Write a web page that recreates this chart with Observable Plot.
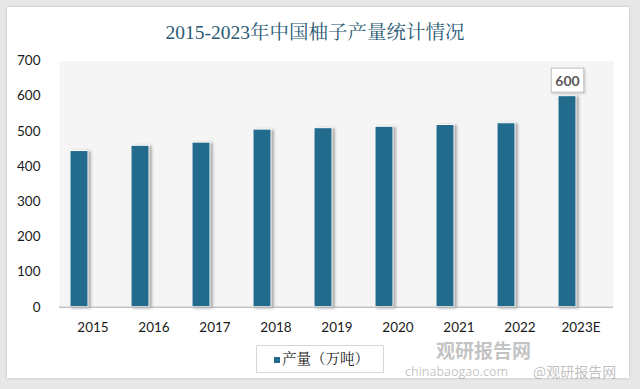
<!DOCTYPE html>
<html><head><meta charset="utf-8">
<script src="https://cdn.jsdelivr.net/npm/d3@7"></script>
<script src="https://cdn.jsdelivr.net/npm/@observablehq/plot@0.6"></script>
<style>
body{margin:0;background:#e8e8e8;width:640px;height:389px;overflow:hidden;position:relative;font-family:Lato,"Noto Sans CJK SC",sans-serif}
#panel{position:absolute;left:7px;top:7px;width:622px;height:371px;background:#fff;box-shadow:0 0 3px rgba(0,0,0,0.18)}
#title{position:absolute;left:0;width:630px;top:21px;text-align:center;font-size:19.5px;line-height:24px;font-family:"Liberation Serif","Noto Serif CJK SC","Noto Sans CJK SC",serif;color:#2b5a73}
#chart{position:absolute;left:0;top:48px}
#legend{position:absolute;left:256px;top:345px;width:126px;height:26px;border:1px solid #d6d6d6;background:#fff;box-sizing:content-box}
#legend .sw{position:absolute;left:17px;top:11px;width:6px;height:6px;background:#226b8c}
#legend .tx{position:absolute;left:25px;top:4px;font-size:14.5px;line-height:18px;font-family:"Liberation Serif","Noto Serif CJK SC","Noto Sans CJK SC",serif;color:#222;white-space:nowrap}
.wm{position:absolute;white-space:nowrap;color:rgba(120,120,120,0.45)}
</style></head>
<body>
<div id="panel"></div>
<div id="title">2015-2023年中国柚子产量统计情况</div>
<div id="chart"></div>
<div id="legend"><div class="sw"></div><div class="tx">产量（万吨）</div></div>
<div class="wm" style="left:436px;top:340px;font-size:19px;line-height:19px;font-weight:bold;font-family:'Noto Sans CJK SC',sans-serif">观研报告网</div>
<div class="wm" style="left:405px;top:365px;font-size:12.5px;line-height:13px;font-family:'Open Sans',sans-serif">chinabaogao.com</div>
<div class="wm" style="left:533px;top:364px;font-size:14px;line-height:14px;font-family:'Noto Sans CJK SC',sans-serif;color:rgba(150,150,150,0.6)">@观研报告网</div>
<script>
const years = ["2015","2016","2017","2018","2019","2020","2021","2022","2023E"];
const output = [444, 459, 468, 505, 509, 513, 518, 523, 600];
const yTicks = [0, 100, 200, 300, 400, 500, 600, 700];
const labelYears = ["2023E"];
const labelValues = [600];

const data = years.map((year, i) => ({year, value: output[i]}));
const labelData = labelYears.map((year, i) => ({year, value: labelValues[i]}));
const barColor = "#226b8c";

const svg = Plot.plot({
  width: 640, height: 295,
  marginTop: 12.5, marginBottom: 36.3, marginLeft: 59, marginRight: 27,
  style: {fontFamily: "Lato, sans-serif", fontSize: "13.5px", color: "#1a1a1a", background: "transparent"},
  x: {domain: years, padding: 0, label: null, tickSize: 0, tickPadding: 15},
  y: {domain: [0, 700], ticks: yTicks, label: null, tickSize: 0, tickPadding: 19},
  marks: [
    Plot.frame({fill: "#f5f5f5", stroke: "none"}),
    Plot.barY(data, {x: "year", y: "value", fill: barColor, stroke: "#ffffff", strokeWidth: 1, insetLeft: 8, insetRight: 35}),
    Plot.ruleY([0], {stroke: "#a8a8a8", strokeWidth: 1}),
    Plot.text(labelData, {x: "year", y: "value", text: d => String(d.value), dx: -13.5, dy: -15, fontWeight: "bold", fill: "#595959", fontSize: 14, lineAnchor: "middle"})
  ]
});
document.getElementById("chart").appendChild(svg);

const s = d3.select(svg);
const defs = s.insert("defs", ":first-child");
const pat = defs.append("pattern").attr("id", "hatch").attr("width", 3).attr("height", 3)
  .attr("patternUnits", "userSpaceOnUse").attr("patternTransform", "rotate(45)");
pat.append("rect").attr("width", 3).attr("height", 3).attr("fill", "#fdfdfd");
pat.append("line").attr("x1", 0.5).attr("y1", 0).attr("x2", 0.5).attr("y2", 3).attr("stroke", "#e3e3e3").attr("stroke-width", 1);
s.selectAll("g[aria-label='frame']").attr("fill", "url(#hatch)");
s.selectAll("g[aria-label='frame'] rect").attr("fill", "url(#hatch)");
s.select("g[aria-label='bar']").style("filter", "drop-shadow(2px 1px 1.5px rgba(0,0,0,0.35))");

// box behind the value label
s.selectAll("g[aria-label='text'] text").each(function() {
  const b = this.getBBox();
  const tr = this.getAttribute("transform");
  const r = d3.select(this.parentNode).insert("rect", () => this)
    .attr("x", b.x - 4).attr("y", b.y - 3.5).attr("width", b.width + 8).attr("height", b.height + 7)
    .attr("fill", "#fff").attr("stroke", "#c4c4c4").attr("stroke-width", 1)
    .style("filter", "drop-shadow(1px 1px 1px rgba(0,0,0,0.2))");
  if (tr) r.attr("transform", tr);
});
</script>
</body></html>
